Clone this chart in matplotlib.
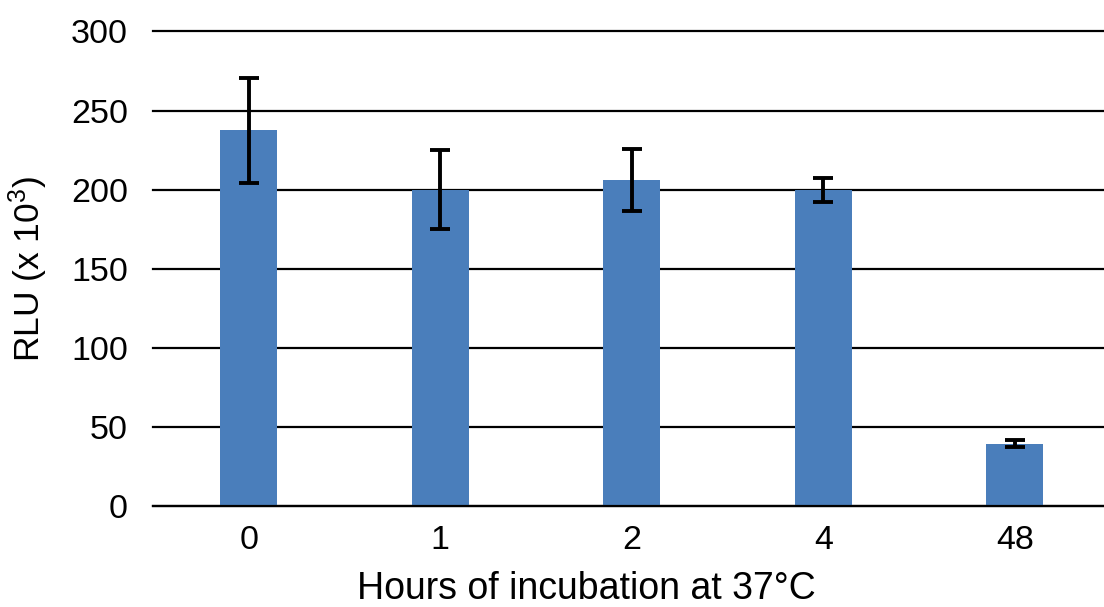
import numpy as np
import matplotlib; matplotlib.use('Agg'); import matplotlib.pyplot as plt

plt.rcParams['font.family'] = ['Liberation Sans', 'DejaVu Sans']
plt.rcParams['mathtext.default'] = 'regular'

hours = ['0', '1', '2', '4', '48']
rlu = [237.5, 200, 206, 200, 39.5]
rlu_err = [33, 25, 19.5, 7.5, 2.5]

fig = plt.figure(figsize=(11.04, 6.07), dpi=100)
ax = fig.add_axes([153/1104, 1 - 506/607, 951/1104, 474.5/607])

x = np.arange(len(hours))
ax.bar(x, rlu, 0.3, color='#4a7ebb', zorder=3)
ax.errorbar(x, rlu, yerr=rlu_err, fmt='none', ecolor='black', elinewidth=2.8,
            capsize=7, capthick=2.8, zorder=4)

ax.set_ylim(0, 300)
ax.set_xlim(-0.5, 4.466)
ax.set_yticks(np.arange(0, 301, 50))
ax.set_xticks(x); ax.set_xticklabels(hours)
ax.yaxis.grid(True, color='black', linewidth=1.6, zorder=0)
for gl in ax.get_ygridlines():
    gl.set_clip_on(False)
ax.set_axisbelow(True)
for s in ['top', 'right', 'left']:
    ax.spines[s].set_visible(False)
ax.spines['bottom'].set_linewidth(1.6)
ax.spines['bottom'].set_zorder(5)
ax.tick_params(axis='both', length=0, labelsize=24.5)
ax.tick_params(axis='y', pad=18)
ax.tick_params(axis='x', pad=14)

ax.set_ylabel('RLU (x 10$^{3}$)', fontsize=25.5)
ax.yaxis.set_label_coords(-0.108, 0.5)
fig.text(586/1104, 1 - 589/607, 'Hours of incubation at 37°C', fontsize=27,
         ha='center', va='center')

plt.savefig('out.png', dpi=100)
plt.close()
